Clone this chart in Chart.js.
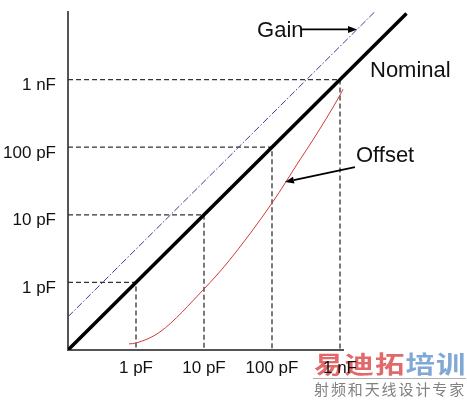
<!DOCTYPE html>
<html>
<head>
<meta charset="utf-8">
<script src="https://cdn.jsdelivr.net/npm/chart.js@4/dist/chart.umd.min.js"></script>
<style>
  html, body { margin: 0; padding: 0; background: #fff; }
  #wrap { width: 467px; height: 400px; }
</style>
</head>
<body>
<div id="wrap"><canvas id="c" width="467" height="400"></canvas></div>
<script>
// Capacitance values in pF
const decades = [1, 10, 100, 1000];
const tickLabels = ['1 pF', '10 pF', '100 pF', '1 nF'];

// Ideal response: measured = actual
const nominalX = [0.1, 9500];
const nominalY = [0.1, 9500];

// Gain error: parallel line shifted up by a constant factor
const gainX = [0.1, 3200];
const gainY = [0.31, 9920];

// Offset error: curve bending away at low values
const offsetX = [0.79, 1, 2.25, 10, 22.5, 100, 257, 400, 1000, 1107];
const offsetY = [0.123, 0.127, 0.185, 0.80, 2.0, 14.9, 65, 128, 590, 720];

const FONT = "'Liberation Sans', Arial, sans-serif";

const pts = (xs, ys) => xs.map((x, i) => ({ x, y: ys[i] }));

const guideSets = decades.map(d => ({
  data: [{ x: 0.1, y: d }, { x: d, y: d }, { x: d, y: 0.1 }],
  showLine: true,
  borderColor: '#333',
  borderWidth: 1.3,
  borderDash: [5, 3],
  pointRadius: 0,
  tension: 0,
  order: 3
}));

// Stamp geometry (lower right corner)
const STAMP_X = 313;

// Publisher stamp, painted underneath the chart
const stamp = {
  id: 'stamp',
  beforeDraw(chart) {
    const { ctx, width, height } = chart;
    ctx.save();
    ctx.fillStyle = '#fff';
    ctx.fillRect(0, 0, width, height);
    ctx.textBaseline = 'alphabetic';
    ctx.textAlign = 'left';
    ctx.font = "bold 28px 'Noto Sans CJK SC', sans-serif";
    const red = 'rgb(226,105,105)', blue = 'rgb(128,168,214)';
    const big = [['易', red], ['迪', red], ['拓', red], ['培', blue], ['训', blue]];
    big.forEach((c, i) => {
      ctx.fillStyle = c[1];
      ctx.save();
      ctx.translate(STAMP_X + 1 + i * 30.5, 373);
      ctx.scale(1.05, 0.85);
      ctx.fillText(c[0], 0, 0);
      ctx.restore();
    });
    ctx.strokeStyle = '#b0b0b0';
    ctx.lineWidth = 1;
    ctx.beginPath();
    ctx.moveTo(STAMP_X, 378.5);
    ctx.lineTo(466, 378.5);
    ctx.stroke();
    ctx.fillStyle = '#808080';
    ctx.font = "15px 'Noto Sans CJK SC', sans-serif";
    const small = '射频和天线设计专家';
    for (let i = 0; i < small.length; i++) {
      ctx.fillText(small[i], STAMP_X + 1 + i * 16.9, 395);
    }
    ctx.restore();
  },
  // x axis line, which runs until the stamp covers it
  beforeDatasetsDraw(chart) {
    const { ctx, chartArea } = chart;
    ctx.save();
    ctx.strokeStyle = '#555';
    ctx.lineWidth = 2;
    ctx.beginPath();
    ctx.moveTo(chartArea.left - 1, chartArea.bottom);
    ctx.lineTo(STAMP_X + 31, chartArea.bottom);
    ctx.stroke();
    ctx.restore();
  }
};

// Arrow annotations and text labels, anchored to data positions
const annotate = {
  id: 'annotate',
  afterDatasetsDraw(chart) {
    const { ctx, scales: { x, y } } = chart;
    const px = v => x.getPixelForValue(v);
    const py = v => y.getPixelForValue(v);

    function arrow(x0, y0, x1, y1) {
      const a = Math.atan2(y1 - y0, x1 - x0);
      const L = 9, W = 3.5;
      ctx.save();
      ctx.strokeStyle = '#000';
      ctx.fillStyle = '#000';
      ctx.lineWidth = 1.8;
      ctx.beginPath();
      ctx.moveTo(x0, y0);
      ctx.lineTo(x1 - L * Math.cos(a), y1 - L * Math.sin(a));
      ctx.stroke();
      ctx.beginPath();
      ctx.moveTo(x1, y1);
      ctx.lineTo(x1 - L * Math.cos(a) + W * Math.sin(a), y1 - L * Math.sin(a) - W * Math.cos(a));
      ctx.lineTo(x1 - L * Math.cos(a) - W * Math.sin(a), y1 - L * Math.sin(a) + W * Math.cos(a));
      ctx.closePath();
      ctx.fill();
      ctx.restore();
    }

    ctx.save();
    ctx.fillStyle = '#111';
    ctx.font = '22px ' + FONT;
    ctx.textAlign = 'left';
    ctx.textBaseline = 'alphabetic';

    // Gain
    const gainFactor = gainY[0] / gainX[0];
    const gx = 1780;
    const gtx = px(gx), gty = py(gx * gainFactor);
    ctx.fillText('Gain', gtx - 100, gty + 8);
    arrow(gtx - 56, gty, gtx, gty);

    // Nominal
    const nx = px(1000), ny = py(1000);
    ctx.fillText('Nominal', nx + 30, ny - 3);

    // Offset
    const otx = px(155), oty = py(30.5);
    ctx.fillText('Offset', otx + 71, oty - 20);
    arrow(otx + 70, oty - 15, otx, oty);
    ctx.restore();
  }
};

new Chart(document.getElementById('c'), {
  type: 'scatter',
  data: {
    datasets: [
      {
        data: pts(nominalX, nominalY),
        showLine: true,
        borderColor: '#000',
        borderWidth: 3.5,
        pointRadius: 0,
        order: 0
      },
      {
        data: pts(gainX, gainY),
        showLine: true,
        borderColor: '#3c3c9c',
        borderWidth: 1,
        borderDash: [7, 2, 1.5, 2],
        pointRadius: 0,
        order: 1
      },
      {
        data: pts(offsetX, offsetY),
        showLine: true,
        borderColor: '#d03c3c',
        borderWidth: 1,
        pointRadius: 0,
        cubicInterpolationMode: 'monotone',
        order: 2
      },
      ...guideSets
    ]
  },
  options: {
    responsive: false,
    animation: false,
    layout: { padding: { left: 0, top: 12, right: 59, bottom: 0 } },
    plugins: { legend: { display: false }, tooltip: { enabled: false } },
    scales: {
      x: {
        type: 'logarithmic',
        min: 0.1,
        max: 10000,
        grid: { display: false, drawTicks: false, tickLength: 0 },
        border: { display: false },
        afterBuildTicks: s => { s.ticks = decades.map(v => ({ value: v })); },
        afterFit: s => { s.height = 50; s.paddingLeft = 0; s.paddingRight = 0; },
        ticks: {
          autoSkip: false,
          maxRotation: 0,
          padding: 8,
          color: '#111',
          font: { family: FONT, size: 17 },
          callback: v => tickLabels[decades.indexOf(v)] ?? ''
        }
      },
      y: {
        type: 'logarithmic',
        min: 0.1,
        max: 10000,
        grid: { display: false, drawTicks: false, tickLength: 0 },
        border: { display: true, color: '#555', width: 2 },
        afterBuildTicks: s => { s.ticks = decades.map(v => ({ value: v })); },
        afterFit: s => { s.width = 68; s.paddingTop = 0; s.paddingBottom = 0; },
        ticks: {
          autoSkip: false,
          padding: 12,
          labelOffset: 6,
          color: '#111',
          font: { family: FONT, size: 17 },
          callback: v => tickLabels[decades.indexOf(v)] ?? ''
        }
      }
    }
  },
  plugins: [stamp, annotate]
});
</script>
</body>
</html>
